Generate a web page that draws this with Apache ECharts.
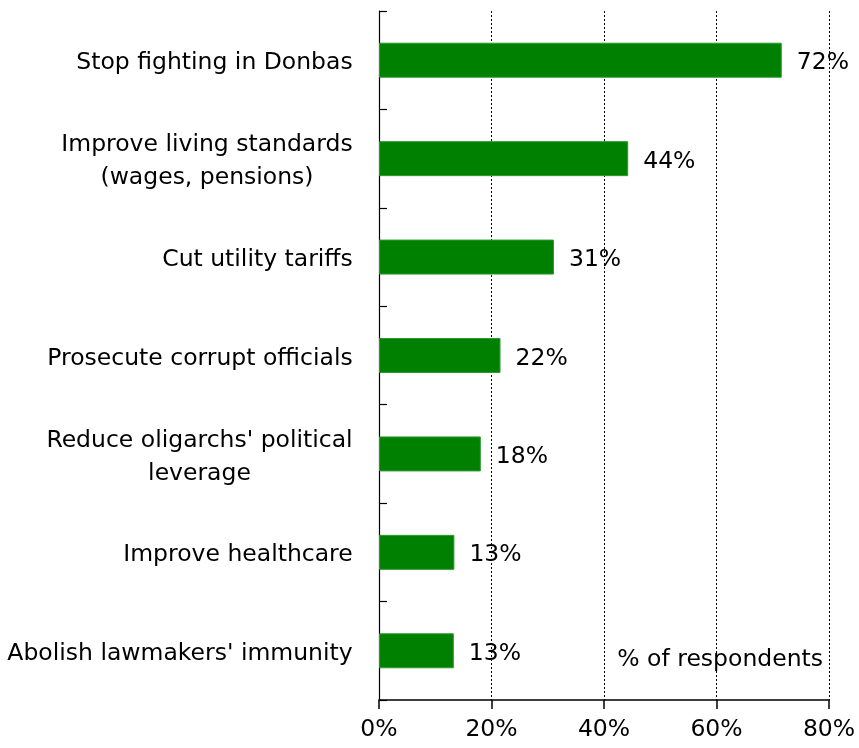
<!DOCTYPE html>
<html>
<head>
<meta charset="utf-8">
<title>Priorities</title>
<script src="https://cdn.jsdelivr.net/npm/echarts@6/dist/echarts.min.js"></script>
<style>
  html, body { margin: 0; padding: 0; background: #fff; }
  #chart { width: 859px; height: 748px; }
</style>
</head>
<body>
<div id="chart"></div>
<script>
  // data
  var categories = [
    'Stop fighting in Donbas',
    'Improve living standards\n(wages, pensions)',
    'Cut utility tariffs',
    'Prosecute corrupt officials',
    "Reduce oligarchs' political\nleverage",
    'Improve healthcare',
    "Abolish lawmakers' immunity"
  ];
  var values = [71.6, 44.3, 31.1, 21.6, 18.1, 13.4, 13.3];
  var xTicks = [0, 20, 40, 60, 80];

  var FONT = '"DejaVu Sans", Verdana, sans-serif';
  var FS = 23.5;

  // width of the widest line, so that two-line labels are centred
  var ctx = document.createElement('canvas').getContext('2d');
  ctx.font = FS + 'px ' + FONT;
  function lineWidth(s) {
    var w = 0;
    s.split('\n').forEach(function (l) { w = Math.max(w, ctx.measureText(l).width); });
    return Math.ceil(w);
  }
  var rich = {};
  categories.forEach(function (c, i) {
    rich['c' + i] = { width: lineWidth(c), align: 'center', fontSize: FS, fontFamily: FONT, color: '#000', lineHeight: 33 };
  });

  var chart = echarts.init(document.getElementById('chart'));
  var option = {
    animation: false,
    grid: { left: 379, right: 30, top: 11, bottom: 48, containLabel: false },
    xAxis: {
      type: 'value',
      position: 'bottom',
      min: xTicks[0],
      max: xTicks[xTicks.length - 1],
      interval: 20,
      axisLine: { show: true, onZero: false, lineStyle: { color: '#000', width: 1.5 } },
      axisTick: { show: true, inside: false, length: 9, lineStyle: { color: '#000', width: 1.5 } },
      axisLabel: {
        margin: 18,
        fontSize: FS,
        fontFamily: FONT,
        color: '#000',
        formatter: function (v) { return v + '%'; }
      },
      splitLine: { show: true, lineStyle: { color: '#000', type: [2, 2], width: 1 } }
    },
    yAxis: {
      type: 'category',
      inverse: true,
      data: categories,
      axisLine: { show: true, lineStyle: { color: '#000', width: 1.2 } },
      axisTick: { show: true, inside: true, length: 8, alignWithLabel: false, lineStyle: { color: '#000', width: 1.2 } },
      axisLabel: {
        margin: 26,
        padding: [6, 0, 0, 0],
        fontSize: FS,
        fontFamily: FONT,
        color: '#000',
        formatter: function (v, i) { return '{c' + i + '|' + v + '}'; },
        rich: rich
      },
      splitLine: { show: false }
    },
    series: [{
      type: 'bar',
      data: values,
      barWidth: 35,
      itemStyle: { color: '#008000', borderColor: '#2e9a2e', borderWidth: 1 },
      label: {
        show: true,
        position: 'right',
        distance: 15,
        offset: [0, 3],
        fontSize: FS,
        fontFamily: FONT,
        color: '#000',
        formatter: function (p) { return Math.round(p.value) + '%'; }
      }
    }],
    graphic: [{
      type: 'text',
      right: 36,
      bottom: 76,
      style: { text: '% of respondents', font: FS + 'px ' + FONT, fill: '#000' }
    }]
  };
  chart.setOption(option);
</script>
</body>
</html>
